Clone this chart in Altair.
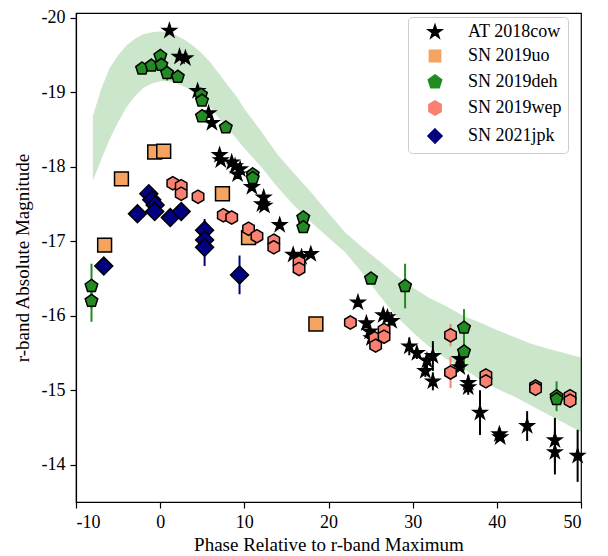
import altair as alt
import pandas as pd

# ---------------- data ----------------
series_names = ["AT 2018cow", "SN 2019uo", "SN 2019deh", "SN 2019wep", "SN 2021jpk"]
series_colors = ["black", "#f4a460", "#228b22", "#fa8072", "#000080"]

cow_phase = [1.1, 2.3, 3.0, 4.45, 5.75, 6.15, 7.06, 7.2, 8.5, 8.9, 9.2, 9.5, 10.9, 12.3, 12.1, 12.4,
             14.2, 15.8, 16.8, 17.9, 23.5, 24.5, 24.9, 25.1, 26.5, 27.0, 27.5, 29.6, 30.5, 31.7,
             31.5, 32.4, 32.4, 35.6, 35.6, 36.6, 36.6, 38.0, 40.3, 40.4, 43.6, 46.9, 46.9, 49.6]
cow_mag = [-19.83, -19.48, -19.46, -19.02, -18.72, -18.59, -18.16, -18.09, -18.06, -18.01, -17.90,
           -17.97, -17.73, -17.59, -17.50, -17.48, -17.22, -16.82, -16.79, -16.83, -16.18, -15.90,
           -15.79, -15.70, -16.01, -15.98, -15.93, -15.59, -15.50, -15.40, -15.26, -15.46, -15.12,
           -15.42, -15.31, -15.10, -15.04, -14.70, -14.41, -14.37, -14.52, -14.33, -14.17, -14.12]
cow_err = [0.03, 0.03, 0.03, 0.03, 0.03, 0.03, 0.03, 0.03, 0.03, 0.03, 0.03, 0.03, 0.05, 0.05,
           0.05, 0.05, 0.05, 0.05, 0.05, 0.05, 0.05, 0.05, 0.05, 0.05, 0.06, 0.06, 0.06, 0.12,
           0.08, 0.10, 0.08, 0.20, 0.12, 0.05, 0.05, 0.10, 0.10, 0.30, 0.05, 0.05, 0.20, 0.30,
           0.30, 0.35]

uo_phase = [-6.6, -4.6, -0.65, 0.42, 7.4, 10.5, 18.5]
uo_mag = [-16.95, -17.84, -18.20, -18.21, -17.64, -17.05, -15.89]
uo_err = [0.10, 0.03, 0.03, 0.03, 0.03, 0.03, 0.03]

deh_phase = [-8.16, -8.16, -2.15, -1.04, 0.02, 0.14, 0.82, 2.1, 4.85, 4.97, 4.97, 7.8, 11.0, 11.0,
             17.0, 17.0, 25.05, 29.1, 36.1, 36.1, 47.1, 47.1]
deh_mag = [-16.40, -16.20, -19.32, -19.36, -19.49, -19.37, -19.26, -19.21, -18.97, -18.89, -18.68,
           -18.53, -17.90, -17.85, -17.32, -17.19, -16.50, -16.40, -15.84, -15.52, -14.92, -14.88]
deh_err = [0.30, 0.28, 0.03, 0.03, 0.03, 0.03, 0.10, 0.03, 0.03, 0.03, 0.03, 0.03, 0.03, 0.03,
           0.03, 0.03, 0.03, 0.30, 0.25, 0.25, 0.20, 0.05]

wep_phase = [1.5, 2.5, 2.5, 4.5, 7.5, 8.5, 10.5, 11.5, 13.5, 13.5, 16.5, 16.5, 22.6, 25.5, 25.6,
             26.6, 26.6, 34.5, 34.5, 38.7, 38.7, 44.6, 44.6, 48.7, 48.7]
wep_mag = [-17.78, -17.74, -17.64, -17.60, -17.35, -17.32, -17.17, -17.07, -17.01, -16.92, -16.72,
           -16.63, -15.91, -15.70, -15.60, -15.81, -15.72, -15.74, -15.24, -15.20, -15.12, -15.05,
           -15.02, -14.92, -14.86]
wep_err = [0.03, 0.03, 0.03, 0.03, 0.03, 0.03, 0.03, 0.03, 0.03, 0.03, 0.03, 0.03, 0.03, 0.03,
           0.03, 0.03, 0.03, 0.15, 0.21, 0.03, 0.03, 0.03, 0.03, 0.05, 0.05]

jpk_phase = [-6.7, -2.7, -1.35, -1.0, -0.6, -0.65, 1.2, 2.5, 5.28, 5.28, 5.28, 9.43]
jpk_mag = [-16.67, -17.37, -17.64, -17.56, -17.49, -17.40, -17.32, -17.40, -17.15, -17.02, -16.92, -16.55]
jpk_err = [0.03, 0.03, 0.03, 0.03, 0.03, 0.03, 0.03, 0.03, 0.15, 0.10, 0.25, 0.26]

band_phase = [-8, -7, -6, -5, -4, -3, -2, -1, 0, 1, 2, 3, 4, 5, 6, 7, 8, 9, 10, 12, 14, 16, 18,
              20, 22, 24, 26, 28, 30, 32, 34, 36, 38, 40, 42, 44, 46, 48, 50]
band_upper = [-18.68, -19.05, -19.33, -19.50, -19.63, -19.72, -19.78, -19.81, -19.82, -19.81,
              -19.76, -19.70, -19.62, -19.52, -19.40, -19.25, -19.10, -18.96, -18.78, -18.48,
              -18.16, -17.90, -17.65, -17.38, -17.12, -16.92, -16.74, -16.55, -16.38, -16.24,
              -16.13, -16.00, -15.91, -15.81, -15.72, -15.63, -15.56, -15.50, -15.44]
band_lower = [-17.81, -18.10, -18.37, -18.60, -18.80, -18.95, -19.06, -19.12, -19.15, -19.15,
              -19.12, -19.07, -19.00, -18.92, -18.80, -18.65, -18.52, -18.39, -18.25, -18.00,
              -17.72, -17.47, -17.25, -17.05, -16.85, -16.58, -16.28, -16.00, -15.78, -15.58,
              -15.42, -15.29, -15.15, -15.02, -14.92, -14.80, -14.68, -14.56, -14.44]

x_ticks = [-10, 0, 10, 20, 30, 40, 50]
y_ticks = [-20, -19, -18, -17, -16, -15, -14]

# ---------------- tables ----------------
STAR = "M0,-1L0.2245,-0.309L0.9511,-0.309L0.3633,0.118L0.5878,0.809L0,0.382L-0.5878,0.809L-0.3633,0.118L-0.9511,-0.309L-0.2245,-0.309Z"
PENT = "M0,-1L0.9511,-0.309L0.5878,0.809L-0.5878,0.809L-0.9511,-0.309Z"
HEX = "M0,-1L0.866,-0.5L0.866,0.5L0,1L-0.866,0.5L-0.866,-0.5Z"
SQR = "M-0.8,-0.8L0.8,-0.8L0.8,0.8L-0.8,0.8Z"
DIAM = "M0,-1L1,0L0,1L-1,0Z"
shapes = [STAR, SQR, PENT, HEX, DIAM]
sizes = [205, 300, 175, 175, 320]

rows = []
for name, ph, mg, er in [
    (series_names[0], cow_phase, cow_mag, cow_err),
    (series_names[1], uo_phase, uo_mag, uo_err),
    (series_names[2], deh_phase, deh_mag, deh_err),
    (series_names[3], wep_phase, wep_mag, wep_err),
    (series_names[4], jpk_phase, jpk_mag, jpk_err),
]:
    k = series_names.index(name)
    for p, m, e in zip(ph, mg, er):
        rows.append({"sn": name, "phase": p, "mag": m, "lo": m - e, "hi": m + e,
                     "sz": sizes[k]})
df = pd.DataFrame(rows)
band = pd.DataFrame({"phase": band_phase, "upper": band_upper, "lower": band_lower})

FONT = "Liberation Serif"

xscale = alt.Scale(domain=[-10, 50], nice=False, zero=False)
yscale = alt.Scale(domain=[-20.067, -13.5], nice=False, zero=False, reverse=True)
cscale = alt.Scale(domain=series_names, range=series_colors)

xaxis = alt.Axis(title="Phase Relative to r-band Maximum", values=x_ticks, grid=False,
                 labelExpr="'' + datum.value", tickSize=6, labelPadding=5, titlePadding=4)
yaxis = alt.Axis(title="r-band Absolute Magnitude", values=y_ticks, grid=False,
                 labelExpr="'' + datum.value", tickSize=6, labelPadding=5, titlePadding=9)

band_layer = alt.Chart(band).mark_area(color="#008000", opacity=0.2).encode(
    x=alt.X("phase:Q", scale=xscale, axis=xaxis),
    y=alt.Y("upper:Q", scale=yscale, axis=yaxis),
    y2="lower:Q",
)

err_layer = alt.Chart(df).mark_rule(strokeWidth=2).encode(
    x=alt.X("phase:Q", scale=xscale),
    y=alt.Y("lo:Q", scale=yscale),
    y2="hi:Q",
    color=alt.Color("sn:N", scale=cscale),
)

legend = alt.Legend(title=None, orient="none", legendX=332, legendY=4,
                    symbolStrokeColor="black", symbolStrokeWidth=1.5)

pts_layer = alt.Chart(df).mark_point(filled=True, strokeWidth=1.5, opacity=1).encode(
    x=alt.X("phase:Q", scale=xscale),
    y=alt.Y("mag:Q", scale=yscale),
    color=alt.Color("sn:N", scale=cscale, legend=legend),
    stroke=alt.Stroke("sn:N", scale=alt.Scale(domain=series_names, range=["black"] * 5), legend=legend),
    shape=alt.Shape("sn:N", scale=alt.Scale(domain=series_names, range=shapes), legend=legend),
    size=alt.Size("sz:Q", scale=None),
)

chart = alt.layer(band_layer, err_layer, pts_layer).properties(
    width=505, height=489,
    autosize=alt.AutoSizeParams(type="none"),
    padding={"left": 68, "top": 5, "right": 18, "bottom": 54},
).configure_view(
    stroke="black", strokeWidth=1.2
).configure_axis(
    labelFont=FONT, titleFont=FONT, labelFontSize=18, titleFontSize=19,
    labelColor="black", titleColor="black", titleFontWeight="normal",
    domainColor="black", tickColor="black", domainWidth=1.2, tickWidth=1.2,
).configure_legend(
    symbolSize=200,
    labelFont=FONT, labelFontSize=18, labelColor="black",
    strokeColor="#cccccc", fillColor="white", cornerRadius=4, padding=6,
    symbolOffset=12, labelOffset=24, rowPadding=6,
)

chart.save("out.html", embed_options={"renderer": "svg", "actions": False})
